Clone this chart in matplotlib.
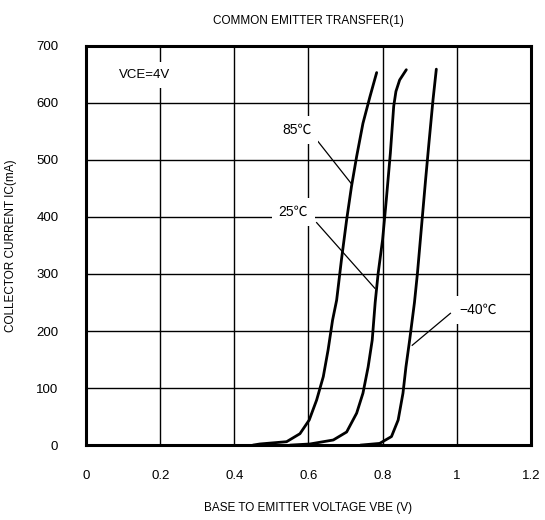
import matplotlib
matplotlib.use('Agg')
import matplotlib.pyplot as plt

# VBE (V) vs IC (mA)
vbe_85 = [0.45, 0.469, 0.541, 0.577, 0.602, 0.622, 0.640, 0.653, 0.665, 0.676,
          0.689, 0.703, 0.716, 0.730, 0.747, 0.766, 0.784]
ic_85 = [0, 2, 6, 20, 44, 79, 120, 167, 219, 254, 325, 395, 453, 506, 564, 611, 653]

vbe_25 = [0.55, 0.604, 0.667, 0.703, 0.730, 0.747, 0.761, 0.772, 0.780, 0.788,
          0.800, 0.810, 0.821, 0.830, 0.836, 0.846, 0.864]
ic_25 = [0, 2, 9, 23, 56, 91, 137, 184, 250, 301, 360, 430, 512, 594, 620, 640, 658]

vbe_m40 = [0.74, 0.792, 0.824, 0.842, 0.855, 0.863, 0.873, 0.886, 0.894, 0.905,
           0.916, 0.925, 0.936, 0.945]
ic_m40 = [0, 3, 15, 44, 91, 137, 184, 250, 301, 383, 465, 529, 605, 659]

x_ticks = [0, 0.2, 0.4, 0.6, 0.8, 1.0, 1.2]
x_labels = ['0', '0.2', '0.4', '0.6', '0.8', '1', '1.2']
y_ticks = [0, 100, 200, 300, 400, 500, 600, 700]

plt.rcParams['font.family'] = ['Liberation Sans', 'Noto Sans CJK JP', 'DejaVu Sans']

fig = plt.figure(figsize=(5.45, 5.2), dpi=100)
ax = fig.add_axes([0.158, 0.144, 0.816, 0.768])

for xs, ys in [(vbe_85, ic_85), (vbe_25, ic_25), (vbe_m40, ic_m40)]:
    ax.plot(xs, ys, color='black', lw=2.0, zorder=3,
            solid_joinstyle='round', solid_capstyle='round')

ax.set_xlim(0, 1.2)
ax.set_ylim(0, 700)
ax.set_xticks(x_ticks)
ax.set_xticklabels(x_labels)
ax.set_yticks(y_ticks)
ax.tick_params(length=0, labelsize=9.5)
ax.tick_params(axis='x', pad=18)
ax.tick_params(axis='y', pad=20)
ax.grid(True, color='black', lw=1.0)
ax.set_axisbelow(True)
for s in ax.spines.values():
    s.set_linewidth(2.2)

box = dict(facecolor='white', edgecolor='none', pad=5)
ax.text(0.159, 649, 'VCE=4V', fontsize=9.5, ha='center', va='center', bbox=box, zorder=4)
ax.text(0.568, 553, '85℃', fontsize=10, ha='center', va='center', bbox=box, zorder=4)
ax.text(0.559, 409, '25℃', fontsize=10, ha='center', va='center', bbox=box, zorder=4)
ax.text(1.058, 237, '−40℃', fontsize=10, ha='center', va='center', bbox=box, zorder=4)

# leader lines
ax.plot([0.626, 0.716], [532, 458], color='black', lw=0.9, zorder=3)
ax.plot([0.622, 0.779], [390, 275], color='black', lw=0.9, zorder=3)
ax.plot([0.983, 0.880], [231, 175], color='black', lw=0.9, zorder=3)

ax.set_title('COMMON EMITTER TRANSFER(1)', fontsize=8.5, pad=16)
ax.set_xlabel('BASE TO EMITTER VOLTAGE VBE (V)', fontsize=8.5, labelpad=14)
ax.set_ylabel('COLLECTOR CURRENT IC(mA)', fontsize=8.5, labelpad=14)

fig.savefig('out.png', dpi=100)
